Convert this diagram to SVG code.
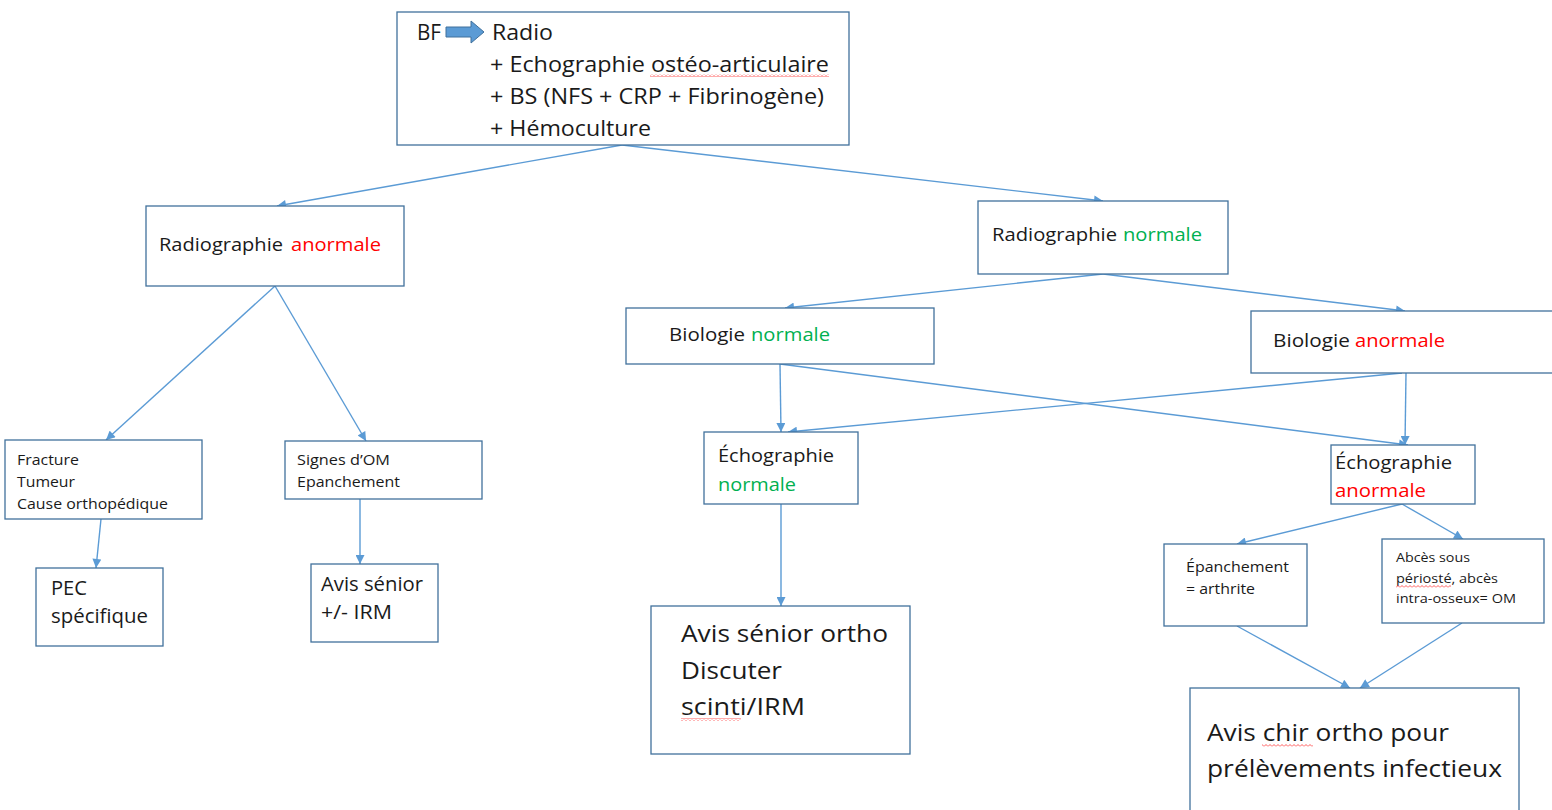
<svg xmlns="http://www.w3.org/2000/svg" width="1552" height="810" viewBox="0 0 1552 810">
  <defs>
    <style>
      .box { fill: #ffffff; stroke: #41719C; stroke-width: 1.3; }
      .link { fill: none; stroke: #5B9BD5; stroke-width: 1.4; marker-end: url(#head); }
      text { font-family: "Open Sans", "Liberation Sans", sans-serif; fill: #1a1a1a; }
      .t21 { font-size: 21px; }
      .t19 { font-size: 19px; }
      .t14 { font-size: 14.5px; }
      .t13 { font-size: 13.5px; }
      .t20 { font-size: 20.5px; }
      .t24 { font-size: 23.5px; }
      .red { fill: #FF0000; }
      .green { fill: #00B050; }
    </style>
    <marker id="head" viewBox="0 0 10 10" refX="10" refY="5" markerWidth="10" markerHeight="9" markerUnits="userSpaceOnUse" orient="auto">
      <path d="M0 0 L10 5 L0 10 Z" fill="#5B9BD5"/>
    </marker>
    <pattern id="squiggle" width="4" height="3" patternUnits="userSpaceOnUse">
      <path d="M0 2.5 L2 0.5 L4 2.5" fill="none" stroke="#FF3030" stroke-width="0.8"/>
    </pattern>
  </defs>

  <rect width="1552" height="810" fill="#ffffff"/>

  <!-- connectors -->
  <g id="connectors">
    <path class="link" d="M622 145 L277 206"/>
    <path class="link" d="M622 145 L1103 201"/>
    <path class="link" d="M275 286 L106 440"/>
    <path class="link" d="M275 286 L366 441"/>
    <path class="link" d="M101 519 L96 568"/>
    <path class="link" d="M360 499 L360 564"/>
    <path class="link" d="M1103 274 L785 308"/>
    <path class="link" d="M1103 274 L1405 311"/>
    <path class="link" d="M780 364 L781 432"/>
    <path class="link" d="M780 364 L1408 445"/>
    <path class="link" d="M1402 373 L788 432"/>
    <path class="link" d="M1406 373 L1405 445"/>
    <path class="link" d="M781 504 L781 606"/>
    <path class="link" d="M1402 504 L1237 544"/>
    <path class="link" d="M1402 504 L1463 539"/>
    <path class="link" d="M1237 626 L1350 688"/>
    <path class="link" d="M1462 623 L1360 688"/>
  </g>

  <!-- start box -->
  <g id="start">
    <rect class="box" x="397" y="12" width="452" height="133"/>
    <text class="t21" x="417" y="40" textLength="24" lengthAdjust="spacingAndGlyphs">BF</text>
    <path d="M446 27 L471 27 L471 21 L484 32 L471 43 L471 37 L446 37 Z" fill="#5B9BD5" stroke="#41719C" stroke-width="1"/>
    <text class="t21" x="492" y="40" textLength="61" lengthAdjust="spacingAndGlyphs">Radio</text>
    <text class="t21" x="490" y="72" textLength="339" lengthAdjust="spacingAndGlyphs">+ Echographie ostéo-articulaire</text>
    <text class="t21" x="490" y="104" textLength="334" lengthAdjust="spacingAndGlyphs">+ BS (NFS + CRP + Fibrinogène)</text>
    <text class="t21" x="490" y="136" textLength="161" lengthAdjust="spacingAndGlyphs">+ Hémoculture</text>
    <rect x="650" y="74" width="179" height="3" fill="url(#squiggle)"/>
  </g>

  <g id="radio-anormale">
    <rect class="box" x="146" y="206" width="258" height="80"/>
    <text class="t19" x="159" y="251" textLength="124" lengthAdjust="spacingAndGlyphs">Radiographie</text>
    <text class="t19 red" x="291" y="251" textLength="90" lengthAdjust="spacingAndGlyphs">anormale</text>
  </g>

  <g id="radio-normale">
    <rect class="box" x="978" y="201" width="250" height="73"/>
    <text class="t19" x="992" y="241" textLength="125" lengthAdjust="spacingAndGlyphs">Radiographie</text>
    <text class="t19 green" x="1123" y="241" textLength="79" lengthAdjust="spacingAndGlyphs">normale</text>
  </g>

  <g id="bio-normale">
    <rect class="box" x="626" y="308" width="308" height="56"/>
    <text class="t19" x="669" y="341" textLength="76" lengthAdjust="spacingAndGlyphs">Biologie</text>
    <text class="t19 green" x="751" y="341" textLength="79" lengthAdjust="spacingAndGlyphs">normale</text>
  </g>

  <g id="bio-anormale">
    <rect class="box" x="1251" y="311" width="310" height="62"/>
    <text class="t19" x="1273" y="347" textLength="77" lengthAdjust="spacingAndGlyphs">Biologie</text>
    <text class="t19 red" x="1355" y="347" textLength="90" lengthAdjust="spacingAndGlyphs">anormale</text>
  </g>

  <g id="echo-normale">
    <rect class="box" x="704" y="432" width="154" height="72"/>
    <text class="t19" x="718" y="462" textLength="116" lengthAdjust="spacingAndGlyphs">Échographie</text>
    <text class="t19 green" x="718" y="491" textLength="78" lengthAdjust="spacingAndGlyphs">normale</text>
  </g>

  <g id="echo-anormale">
    <rect class="box" x="1331" y="445" width="144" height="59"/>
    <text class="t19" x="1335" y="469" textLength="117" lengthAdjust="spacingAndGlyphs">Échographie</text>
    <text class="t19 red" x="1335" y="497" textLength="91" lengthAdjust="spacingAndGlyphs">anormale</text>
  </g>

  <g id="fracture">
    <rect class="box" x="5" y="440" width="197" height="79"/>
    <text class="t14" x="17" y="465" textLength="62" lengthAdjust="spacingAndGlyphs">Fracture</text>
    <text class="t14" x="17" y="487" textLength="58" lengthAdjust="spacingAndGlyphs">Tumeur</text>
    <text class="t14" x="17" y="509" textLength="151" lengthAdjust="spacingAndGlyphs">Cause orthopédique</text>
  </g>

  <g id="signes-om">
    <rect class="box" x="285" y="441" width="197" height="58"/>
    <text class="t14" x="297" y="465" textLength="93" lengthAdjust="spacingAndGlyphs">Signes d’OM</text>
    <text class="t14" x="297" y="487" textLength="103" lengthAdjust="spacingAndGlyphs">Epanchement</text>
  </g>

  <g id="pec">
    <rect class="box" x="36" y="568" width="127" height="78"/>
    <text class="t20" x="51" y="595" textLength="36" lengthAdjust="spacingAndGlyphs">PEC</text>
    <text class="t20" x="51" y="623" textLength="97" lengthAdjust="spacingAndGlyphs">spécifique</text>
  </g>

  <g id="avis-senior">
    <rect class="box" x="311" y="564" width="127" height="78"/>
    <text class="t20" x="321" y="591" textLength="102" lengthAdjust="spacingAndGlyphs">Avis sénior</text>
    <text class="t20" x="321" y="619" textLength="71" lengthAdjust="spacingAndGlyphs">+/- IRM</text>
  </g>

  <g id="avis-ortho">
    <rect class="box" x="651" y="606" width="259" height="148"/>
    <text class="t24" x="681" y="642" textLength="207" lengthAdjust="spacingAndGlyphs">Avis sénior ortho</text>
    <text class="t24" x="681" y="679" textLength="101" lengthAdjust="spacingAndGlyphs">Discuter</text>
    <text class="t24" x="681" y="715" textLength="124" lengthAdjust="spacingAndGlyphs">scinti/IRM</text>
    <rect x="681" y="718" width="60" height="3" fill="url(#squiggle)"/>
  </g>

  <g id="epanchement">
    <rect class="box" x="1164" y="544" width="143" height="82"/>
    <text class="t14" x="1186" y="572" textLength="103" lengthAdjust="spacingAndGlyphs">Épanchement</text>
    <text class="t14" x="1186" y="594" textLength="69" lengthAdjust="spacingAndGlyphs">= arthrite</text>
  </g>

  <g id="abces">
    <rect class="box" x="1382" y="539" width="162" height="84"/>
    <text class="t13" x="1396" y="562" textLength="74" lengthAdjust="spacingAndGlyphs">Abcès sous</text>
    <text class="t13" x="1396" y="583" textLength="102" lengthAdjust="spacingAndGlyphs">périosté, abcès</text>
    <text class="t13" x="1396" y="603" textLength="120" lengthAdjust="spacingAndGlyphs">intra-osseux= OM</text>
    <rect x="1396" y="585" width="55" height="3" fill="url(#squiggle)"/>
  </g>

  <g id="avis-chir">
    <rect class="box" x="1190" y="688" width="329" height="130"/>
    <text class="t24" x="1207" y="741" textLength="242" lengthAdjust="spacingAndGlyphs">Avis chir ortho pour</text>
    <text class="t24" x="1207" y="777" textLength="295" lengthAdjust="spacingAndGlyphs">prélèvements infectieux</text>
    <rect x="1262" y="744" width="51" height="3" fill="url(#squiggle)"/>
  </g>
</svg>
